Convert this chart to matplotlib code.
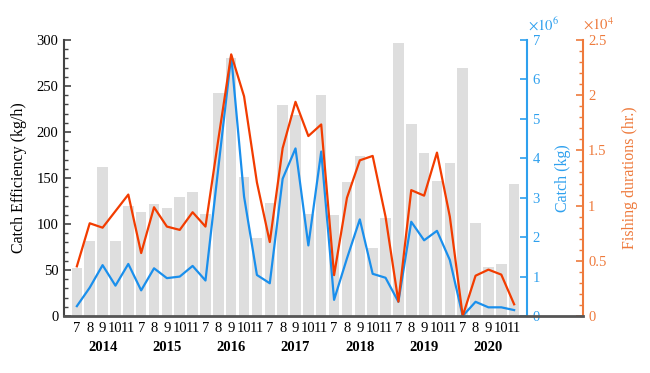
import matplotlib
matplotlib.use("Agg")
import matplotlib.pyplot as plt
from matplotlib.ticker import MultipleLocator, FuncFormatter
from matplotlib.lines import Line2D
import numpy as np

years = ["2014", "2015", "2016", "2017", "2018", "2019", "2020"]
months = ["7", "8", "9", "10", "11"]

# Catch efficiency (kg/h), bars
efficiency = [52, 82, 162, 81, 120,
              113, 122, 117, 129, 135,
              111, 242, 280, 151, 85,
              123, 229, 219, 111, 240,
              110, 146, 174, 74, 106,
              297, 209, 177, 147, 166,
              270, 101, 53, 56, 143]

# Catch (kg)
catch = [0.25e6, 0.72e6, 1.29e6, 0.77e6, 1.32e6,
         0.65e6, 1.21e6, 0.96e6, 1.00e6, 1.27e6,
         0.90e6, 3.76e6, 6.60e6, 3.03e6, 1.04e6,
         0.83e6, 3.48e6, 4.25e6, 1.79e6, 4.17e6,
         0.41e6, 1.46e6, 2.45e6, 1.07e6, 0.97e6,
         0.36e6, 2.39e6, 1.92e6, 2.16e6, 1.42e6,
         0.0, 0.36e6, 0.22e6, 0.22e6, 0.15e6]

# Fishing durations (hr.)
durations = [0.45e4, 0.84e4, 0.80e4, 0.95e4, 1.10e4,
             0.57e4, 0.985e4, 0.81e4, 0.78e4, 0.94e4,
             0.81e4, 1.60e4, 2.37e4, 1.99e4, 1.21e4,
             0.67e4, 1.52e4, 1.94e4, 1.63e4, 1.735e4,
             0.37e4, 1.07e4, 1.41e4, 1.45e4, 0.90e4,
             0.13e4, 1.14e4, 1.09e4, 1.48e4, 0.90e4,
             0.0, 0.365e4, 0.42e4, 0.375e4, 0.106e4]

plt.rcParams['font.family'] = ['Liberation Serif', 'DejaVu Serif']
plt.rcParams['mathtext.fontset'] = 'stix'

BLUE_LINE = '#1a8fec'
BLUE_AX = '#2ea0ee'
ORANGE_LINE = '#f23c00'
ORANGE_AX = '#ee7a3c'
DARK = '#444444'
FS = 10.5

fig = plt.figure(figsize=(6.5, 3.73), dpi=100)
ax = fig.add_axes([64/650, 57/373, 463/650, 276/373])

n = len(efficiency)
x = np.arange(n)
ax.bar(x, efficiency, width=0.82, color='#dedede', edgecolor='none', zorder=1)
ax.set_xlim(-1, n)
ax.set_ylim(0, 300)
ax.yaxis.set_major_locator(MultipleLocator(50))
ax.yaxis.set_minor_locator(MultipleLocator(10))
ax.tick_params(axis='y', which='major', direction='in', length=5, width=1.2,
               color=DARK, labelsize=FS, pad=4)
ax.tick_params(axis='y', which='minor', direction='in', length=3, width=1.0, color=DARK)
ax.set_xticks(x)
ax.set_xticklabels(months * len(years))
ax.tick_params(axis='x', length=0, labelsize=FS, pad=4)
for s in ['top', 'right', 'bottom']:
    ax.spines[s].set_visible(False)
ax.spines['left'].set_color(DARK)
ax.spines['left'].set_linewidth(1.5)
ax.set_ylabel('Catch Efficiency (kg/h)', fontsize=11.5)
ax.yaxis.set_label_coords(-0.08, 0.5)

for i, yr in enumerate(years):
    ax.text(i * 5 + 2, -0.09, yr, transform=ax.get_xaxis_transform(),
            ha='center', va='top', fontsize=FS, fontweight='bold')

# Catch axis
ax2 = ax.twinx()
ax2.plot(x, catch, color=BLUE_LINE, lw=1.6, zorder=3)
ax2.set_ylim(0, 7e6)
ax2.set_yticks(np.arange(0, 8) * 1e6)
ax2.yaxis.set_major_formatter(FuncFormatter(lambda v, p: f"{v/1e6:g}"))
ax2.tick_params(axis='y', direction='in', length=5, width=1.2, color=BLUE_AX,
                labelcolor=BLUE_AX, labelsize=FS, pad=4)
for s in ['top', 'left', 'bottom']:
    ax2.spines[s].set_visible(False)
ax2.spines['right'].set_color(BLUE_AX)
ax2.spines['right'].set_linewidth(1.5)
ax2.set_ylabel('Catch (kg)', color=BLUE_AX, fontsize=11.5)
ax2.yaxis.set_label_coords(1.06, 0.5)
ax2.text(1.003, 1.025, r'$\times10^{6}$', transform=ax2.transAxes, color=BLUE_AX,
         fontsize=FS, ha='left', va='bottom')

# Durations axis
ax3 = ax.twinx()
ax3.plot(x, durations, color=ORANGE_LINE, lw=1.6, zorder=3)
ax3.set_ylim(0, 2.5e4)
ax3.set_yticks(np.arange(0, 6) * 0.5e4)
ax3.yaxis.set_minor_locator(MultipleLocator(0.1e4))
ax3.yaxis.set_major_formatter(FuncFormatter(lambda v, p: f"{v/1e4:g}"))
ax3.spines['right'].set_position(('axes', 1.12))
ax3.tick_params(axis='y', which='major', direction='in', length=5, width=1.2,
                color=ORANGE_AX, labelcolor=ORANGE_AX, labelsize=FS, pad=4)
ax3.tick_params(axis='y', which='minor', direction='in', length=3, width=1.0,
                color=ORANGE_AX)
for s in ['top', 'left', 'bottom']:
    ax3.spines[s].set_visible(False)
ax3.spines['right'].set_color(ORANGE_AX)
ax3.spines['right'].set_linewidth(1.5)
ax3.set_ylabel('Fishing durations (hr.)', color=ORANGE_AX, fontsize=11.5)
ax3.yaxis.set_label_coords(1.205, 0.5)
ax3.text(1.122, 1.025, r'$\times10^{4}$', transform=ax3.transAxes, color=ORANGE_AX,
         fontsize=FS, ha='left', va='bottom')

# bottom baseline spanning to the third axis
ax3.add_line(Line2D([0, 1.12], [0, 0], transform=ax3.transAxes, color='#555555',
                    lw=2, clip_on=False, zorder=5))

fig.savefig('out.png', dpi=100)
